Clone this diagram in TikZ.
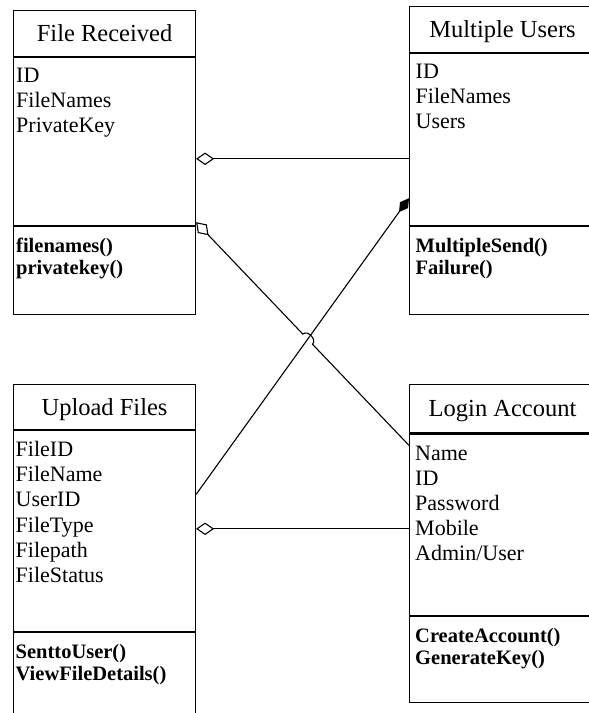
\documentclass[tikz,border=0pt]{standalone}
\usepackage{fontspec}
\setmainfont{Liberation Serif}
\usetikzlibrary{arrows.meta, positioning, calc}
\tikzset{
  box/.style = {draw, line width=1.1pt, inner sep=0pt, anchor=north west},
  ttl/.style = {font=\fontsize{24.5}{28}\selectfont, inner sep=0pt,
                text height=16.2pt, text depth=0pt},
  att/.style = {font=\fontsize{22}{25.2}\selectfont, align=left,
                inner sep=0pt, anchor=north west},
  mth/.style = {font=\fontsize{20.5}{21.5}\selectfont\bfseries, align=left,
                inner sep=0pt, anchor=north west},
  ln/.style  = {line width=1.1pt},
  agg/.style = {ln, -{Diamond[open, length=18pt, width=12.5pt]}},
  cmp/.style = {ln, -{Diamond[length=17pt, width=10pt]}},
}
\begin{document}
\begin{tikzpicture}[x=1pt, y=1pt]
  \useasboundingbox (0,0) rectangle (589,-713);
  % File Received
  \node[box, minimum width=182pt, minimum height=46.2pt] (frT) at (13,-9.5) {};
  \node[box, minimum width=182pt, minimum height=168.3pt, anchor=north] (frA) at (frT.south) {};
  \node[box, minimum width=182pt, minimum height=87.7pt, anchor=north] (frM) at (frA.south) {};
  \node[ttl] (frTt) at (frT) {File Received};
  \node[att] (frAt) at ($(frA.north west)+(3,-11)$) {ID\\FileNames\\PrivateKey};
  \node[mth] (frMt) at ($(frM.north west)+(3,-12)$) {filenames()\\privatekey()};
  % Multiple Users
  \node[box, minimum width=186pt, minimum height=45.7pt] (muT) at (409,-6) {};
  \node[box, minimum width=186pt, minimum height=172.3pt, anchor=north] (muA) at (muT.south) {};
  \node[box, minimum width=186pt, minimum height=87.7pt, anchor=north] (muM) at (muA.south) {};
  \node[ttl] (muTt) at (muT) {Multiple Users};
  \node[att] (muAt) at ($(muA.north west)+(6.5,-11)$) {ID\\FileNames\\Users};
  \node[mth] (muMt) at ($(muM.north west)+(6.5,-12)$) {MultipleSend()\\Failure()};
  % Upload Files
  \node[box, minimum width=182pt, minimum height=44.7pt] (ufT) at (13,-384.3) {};
  \node[box, minimum width=182pt, minimum height=201pt, anchor=north] (ufA) at (ufT.south) {};
  \node[box, minimum width=182pt, minimum height=95pt, anchor=north] (ufM) at (ufA.south) {};
  \node[ttl] (ufTt) at (ufT) {Upload Files};
  \node[att] (ufAt) at ($(ufA.north west)+(2.5,-11)$)
    {FileID\\FileName\\UserID\\FileType\\Filepath\\FileStatus};
  \node[mth] (ufMt) at ($(ufM.north west)+(2.5,-12)$) {SenttoUser()\\ViewFileDetails()};
  % Login Account
  \node[box, minimum width=186pt, minimum height=48pt] (laT) at (409,-384.3) {};
  \node[box, minimum width=186pt, minimum height=181.7pt, anchor=north] (laA) at (laT.south) {};
  \node[box, minimum width=186pt, minimum height=85.3pt, anchor=north] (laM) at (laA.south) {};
  \node[ttl] (laTt) at (laT) {Login Account};
  \node[att] (laAt) at ($(laA.north west)+(6,-12)$)
    {Name\\ID\\Password\\Mobile\\Admin/User};
  \node[mth] (laMt) at ($(laM.north west)+(6,-12)$) {CreateAccount()\\GenerateKey()};
  % connector ends
  \coordinate (frR1) at ($(frA.north east)+(0,-102)$);
  \coordinate (muL1) at (frR1 -| muA.west);
  \coordinate (frR2) at ($(frA.south east)+(0,4)$);
  \coordinate (laL1) at ($(laA.north west)+(0,-12)$);
  \coordinate (ufR1) at ($(ufA.north east)+(0,-64.3)$);
  \coordinate (muL2) at ($(muA.south west)+(0,28)$);
  \coordinate (ufR2) at ($(ufA.north east)+(0,-98.7)$);
  \coordinate (laL2) at (ufR2 -| laA.west);
  \coordinate (cr) at (intersection of frR2--laL1 and ufR1--muL2);
  \coordinate (h1) at ($(cr)!7pt!(frR2)$);
  \coordinate (h2) at ($(cr)!7pt!(laL1)$);
  % connectors
  \draw[agg] (muL1) -- (frR1);
  \draw[agg] (laL1) -- (h2) to[bend right=90, looseness=1.2] (h1) -- (frR2);
  \draw[cmp] (ufR1) -- (muL2);
  \draw[agg] (laL2) -- (ufR2);
\end{tikzpicture}
\end{document}
